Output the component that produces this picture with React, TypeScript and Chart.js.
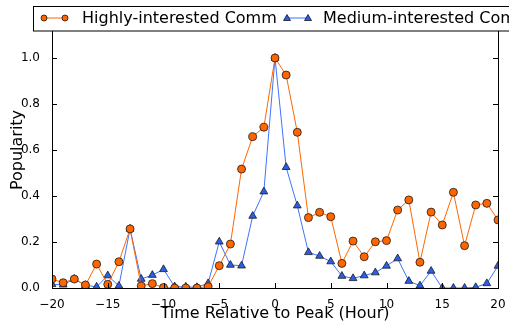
import React, { useEffect, useRef } from "react";
import { Chart, registerables } from "chart.js";

Chart.register(...registerables);

const hours = [-20, -19, -18, -17, -16, -15, -14, -13, -12, -11, -10, -9, -8, -7, -6, -5, -4, -3, -2, -1, 0, 1, 2, 3, 4, 5, 6, 7, 8, 9, 10, 11, 12, 13, 14, 15, 16, 17, 18, 19, 20];

const highly = [0.039, 0.023, 0.039, 0.013, 0.104, 0.016, 0.114, 0.257, 0.009, 0.019, 0.002, 0, 0, 0, 0.006, 0.097, 0.191, 0.517, 0.658, 0.699, 1.0, 0.926, 0.677, 0.306, 0.329, 0.31, 0.107, 0.204, 0.136, 0.201, 0.206, 0.339, 0.383, 0.112, 0.33, 0.274, 0.416, 0.184, 0.361, 0.368, 0.296];

const medium = [0.016, 0.014, 0.039, 0.012, 0.005, 0.054, 0.009, 0.257, 0.039, 0.056, 0.081, 0.006, 0.005, 0.003, 0.02, 0.201, 0.1, 0.097, 0.313, 0.419, 1.0, 0.525, 0.358, 0.155, 0.139, 0.115, 0.052, 0.042, 0.054, 0.067, 0.096, 0.128, 0.03, 0.01, 0.074, 0.0, 0.0, 0.0, 0.003, 0.02, 0.096];

const seriesLabels = ["Highly-interested Comm", "Medium-interested Comm"];
const xTicks = [-20, -15, -10, -5, 0, 5, 10, 15, 20];
const yTicks = [0, 0.2, 0.4, 0.6, 0.8, 1.0];

const FONT = "'DejaVu Sans', sans-serif";
const ORANGE = "#ff6600";
const BLUE_LINE = "#3f73ff";
const BLUE_FILL = "#2b5fe8";

const boxPlugin = {
  id: "mplBox",
  afterDatasetsDraw(chart: any) {
    const { ctx, chartArea } = chart;
    const { left, right, top, bottom } = chartArea;
    const xs = chart.scales.x;
    const ys = chart.scales.y;
    ctx.save();
    ctx.strokeStyle = "#000";
    ctx.lineWidth = 1;
    ctx.beginPath();
    const L = 5;
    xTicks.forEach((v) => {
      const px = Math.round(xs.getPixelForValue(v)) + 0.5;
      ctx.moveTo(px, bottom);
      ctx.lineTo(px, bottom - L);
      ctx.moveTo(px, top);
      ctx.lineTo(px, top + L);
    });
    yTicks.forEach((v) => {
      const py = Math.round(ys.getPixelForValue(v)) + 0.5;
      ctx.moveTo(left, py);
      ctx.lineTo(left + L, py);
      ctx.moveTo(right, py);
      ctx.lineTo(right - L, py);
    });
    ctx.stroke();
    ctx.strokeRect(Math.round(left) + 0.5, Math.round(top) + 0.5, Math.round(right - left), Math.round(bottom - top));
    ctx.restore();
  },
  afterDraw(chart: any) {
    const { ctx } = chart;
    ctx.save();
    ctx.fillStyle = "#fff";
    ctx.strokeStyle = "#000";
    ctx.lineWidth = 1;
    ctx.fillRect(33.5, 6.5, 520, 24.5);
    ctx.strokeRect(33.5, 6.5, 520, 24.5);
    const entries = [
      { x0: 44, x1: 65, tx: 82, line: ORANGE, fill: ORANGE, style: "circle" },
      { x0: 287, x1: 308, tx: 323, line: BLUE_LINE, fill: BLUE_FILL, style: "triangle" },
    ];
    const y = 18;
    entries.forEach((e, i) => {
      ctx.strokeStyle = e.line;
      ctx.lineWidth = 1;
      ctx.beginPath();
      ctx.moveTo(e.x0, y);
      ctx.lineTo(e.x1, y);
      ctx.stroke();
      [e.x0, e.x1].forEach((mx) => {
        ctx.fillStyle = e.fill;
        ctx.strokeStyle = "#000";
        ctx.lineWidth = 0.7;
        ctx.beginPath();
        if (e.style === "circle") {
          ctx.arc(mx, y, 3, 0, Math.PI * 2);
        } else {
          ctx.moveTo(mx, y - 3.5);
          ctx.lineTo(mx + 3.5, y + 2.5);
          ctx.lineTo(mx - 3.5, y + 2.5);
          ctx.closePath();
        }
        ctx.fill();
        ctx.stroke();
      });
      ctx.fillStyle = "#000";
      ctx.font = `16px ${FONT}`;
      ctx.textBaseline = "middle";
      ctx.textAlign = "left";
      ctx.fillText(chart.data.datasets[i].label, e.tx, y + 0.5);
    });
    ctx.restore();
  },
};

export default function App() {
  const ref = useRef<HTMLCanvasElement | null>(null);
  useEffect(() => {
    document.body.style.margin = "0";
    const canvas = ref.current;
    if (!canvas) return;
    const chart = new Chart(canvas, {
      type: "line",
      data: {
        datasets: [
          {
            label: seriesLabels[0],
            data: hours.map((h, i) => ({ x: h, y: highly[i] })),
            borderColor: ORANGE,
            borderWidth: 1,
            pointStyle: "circle",
            pointRadius: 4,
            pointBackgroundColor: ORANGE,
            pointBorderColor: "#1a1a1a",
            pointBorderWidth: 0.8,
            tension: 0,
            clip: 0,
          },
          {
            label: seriesLabels[1],
            data: hours.map((h, i) => ({ x: h, y: medium[i] })),
            borderColor: BLUE_LINE,
            borderWidth: 1,
            pointStyle: "triangle",
            pointRadius: 4.5,
            pointBackgroundColor: BLUE_FILL,
            pointBorderColor: "#1a1a1a",
            pointBorderWidth: 0.8,
            tension: 0,
            clip: 0,
          },
        ],
      },
      options: {
        animation: false,
        responsive: false,
        devicePixelRatio: 1,
        layout: { padding: { top: 12, right: 11, left: 0, bottom: 0 } },
        plugins: { legend: { display: false }, tooltip: { enabled: false } },
        scales: {
          x: {
            type: "linear",
            min: -20,
            max: 20,
            grid: { display: false },
            border: { display: false },
            afterBuildTicks: (s: any) => {
              s.ticks = xTicks.map((v) => ({ value: v }));
            },
            afterFit: (s: any) => {
              s.height = 36;
            },
            ticks: {
              padding: 2,
              maxRotation: 0,
              color: "#000",
              font: { family: FONT, size: 12 },
              callback: (v: any) => String(v).replace("-", "\u2212"),
            },
            title: {
              display: true,
              text: "Time Relative to Peak (Hour)",
              color: "#000",
              font: { family: FONT, size: 16 },
              padding: { top: 0, bottom: 0.4 },
            },
          },
          y: {
            type: "linear",
            min: 0,
            max: 1.2,
            grid: { display: false },
            border: { display: false },
            afterBuildTicks: (s: any) => {
              s.ticks = yTicks.map((v) => ({ value: v }));
            },
            afterFit: (s: any) => {
              s.width = 52;
            },
            ticks: {
              padding: 4,
              color: "#000",
              font: { family: FONT, size: 12 },
              callback: (v: any) => Number(v).toFixed(1),
            },
            title: {
              display: true,
              text: "Popularity",
              color: "#000",
              font: { family: FONT, size: 16 },
              padding: { top: 8.4, bottom: 0 },
            },
          },
        },
      },
      plugins: [boxPlugin],
    } as any);
    return () => chart.destroy();
  }, []);
  return (
    <div style={{ position: "fixed", left: 0, top: 0, width: 509, height: 324, background: "#fff" }}>
      <canvas ref={ref} width={509} height={324} />
    </div>
  );
}
